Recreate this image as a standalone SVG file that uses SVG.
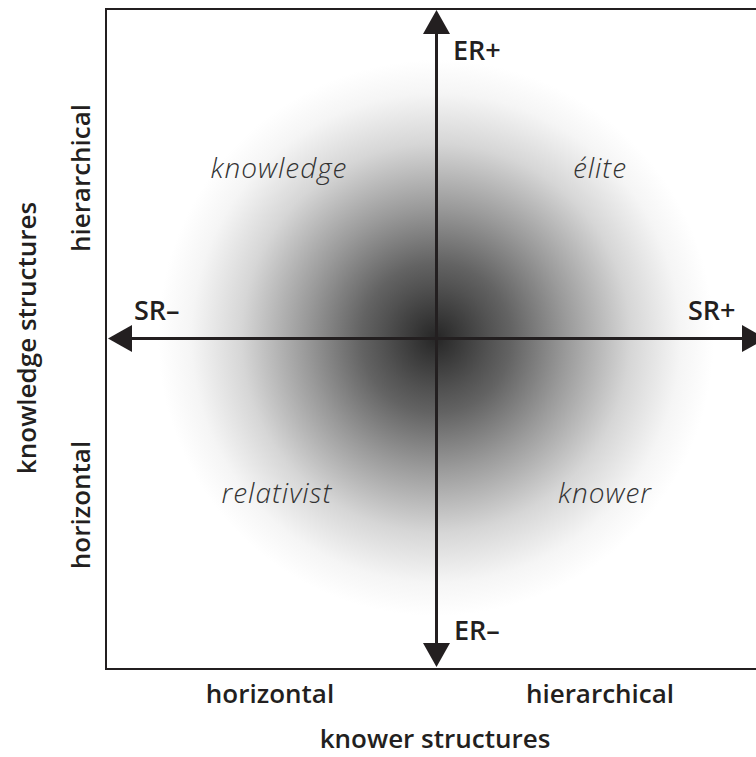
<svg xmlns="http://www.w3.org/2000/svg" width="756" height="757" viewBox="0 0 756 757">
<defs>
<radialGradient id="glow" cx="436" cy="338" r="278" gradientUnits="userSpaceOnUse">
<stop offset="0" stop-color="#262626"/>
<stop offset="0.19" stop-color="#525252"/>
<stop offset="0.27" stop-color="#636363"/>
<stop offset="0.47" stop-color="#9a9a9a"/>
<stop offset="0.7" stop-color="#d6d6d6"/>
<stop offset="0.88" stop-color="#f5f5f5"/>
<stop offset="1" stop-color="#ffffff"/>
</radialGradient>
<style>
.ax{stroke:#231f20;stroke-width:3;fill:none}
.head{fill:#231f20}
.lbl{font-family:"Open Sans","Noto Sans",sans-serif;font-weight:600;font-size:27px;fill:#231f20}
.side{font-family:"Open Sans","Noto Sans",sans-serif;font-weight:600;font-size:26px;fill:#231f20}
.quad{font-family:"Open Sans","Noto Sans",sans-serif;font-weight:300;font-style:italic;font-size:28px;fill:#333333;letter-spacing:1px}
</style>
</defs>
<rect width="756" height="757" fill="#ffffff"/>
<g id="frame">
<rect x="106" y="9" width="660" height="660" fill="url(#glow)" stroke="#231f20" stroke-width="2"/>
</g>
<g id="connectors">
<line class="ax" x1="436.5" y1="30" x2="436.5" y2="646"/>
<line class="ax" x1="130" y1="338.5" x2="744" y2="338.5"/>
<polygon class="head" points="436.5,10 423,34 450,34"/>
<polygon class="head" points="436.5,667 423,643 450,643"/>
<polygon class="head" points="108,338.5 132,325 132,352"/>
<polygon class="head" points="766,338.5 742,325 742,352"/>
</g>
<g id="axis-labels">
<text class="lbl" x="453" y="60">ER+</text>
<text class="lbl" x="454" y="640">ER–</text>
<text class="lbl" x="134" y="320">SR–</text>
<text class="lbl" x="688" y="320">SR+</text>
</g>
<g id="quadrants">
<text class="quad" x="279" y="178" text-anchor="middle">knowledge</text>
<text class="quad" x="600" y="178" text-anchor="middle">élite</text>
<text class="quad" x="277" y="503" text-anchor="middle">relativist</text>
<text class="quad" x="605" y="503" text-anchor="middle">knower</text>
</g>
<g id="x-axis-title">
<text class="side" x="270" y="703" text-anchor="middle">horizontal</text>
<text class="side" x="600" y="703" text-anchor="middle">hierarchical</text>
<text class="side" x="435" y="748" text-anchor="middle">knower structures</text>
</g>
<g id="y-axis-title">
<text class="side" transform="translate(90,178) rotate(-90)" text-anchor="middle">hierarchical</text>
<text class="side" transform="translate(90,505) rotate(-90)" text-anchor="middle">horizontal</text>
<text class="side" transform="translate(36,338) rotate(-90)" text-anchor="middle">knowledge structures</text>
</g>
</svg>
